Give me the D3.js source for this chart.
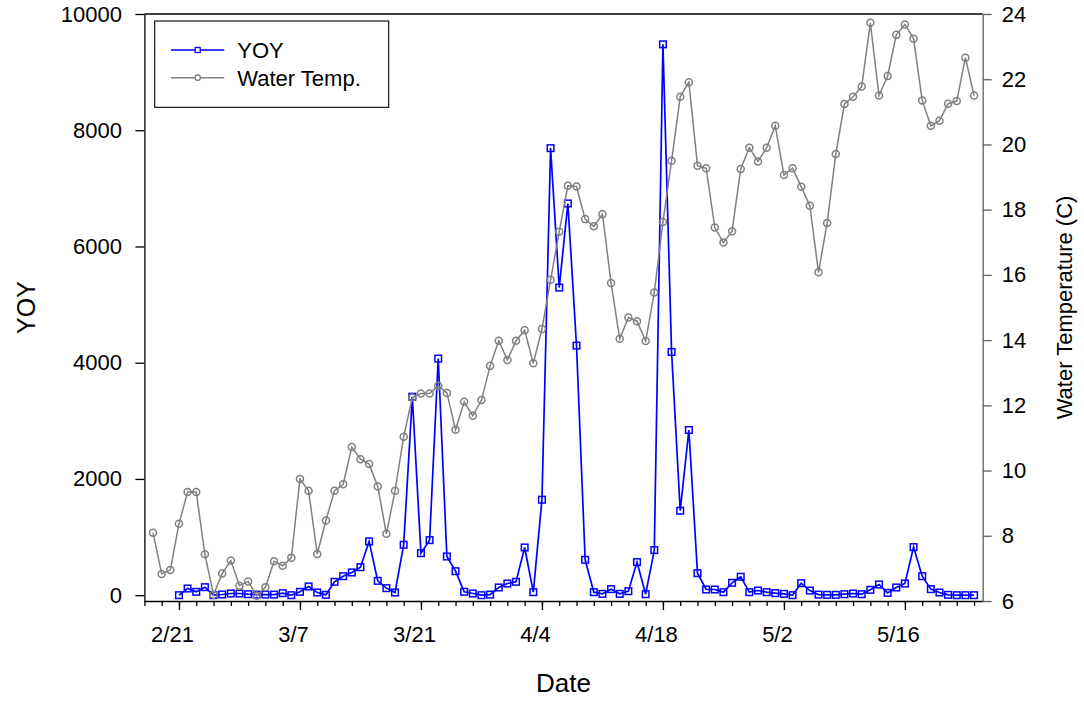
<!DOCTYPE html>
<html>
<head>
<meta charset="utf-8">
<script src="https://cdn.jsdelivr.net/npm/d3@7"></script>
<style>
  html, body { margin: 0; padding: 0; background: #fff; }
  svg { display: block; font-family: Arial, "Liberation Sans", Helvetica, sans-serif; }
</style>
</head>
<body>
<svg id="chart" width="1084" height="702"></svg>
<script>
// ---------- data ----------
const yoyStart = "2019-02-21";   // YOY series: daily from 2/21 to 5/24
const yoyValues = [
  0,115,58,138,0,12,29,29,
  17,10,10,10,35,0,58,150,46,6,
  230,327,391,482,925,247,121,46,867,3415,
  723,947,4071,666,413,58,29,0,10,133,201,
  230,821,52,1643,7692,5293,6740,4295,609,52,
  23,104,23,69,569,17,776,9478,4185,1453,
  2842,379,98,98,52,213,317,52,80,52,
  35,23,0,207,80,10,6,6,17,29,
  17,92,184,40,133,201,827,327,104,46,
  6,0,0,0
];
const tempStart = "2019-02-18";  // Water temp: daily from 2/18 to 5/24
const tempValues = [
  8.09,6.83,6.95,8.37,9.34,9.34,7.43,6.19,6.84,7.24,6.47,
  6.6,6.16,6.42,7.22,7.08,7.33,9.74,9.38,7.44,8.47,
  9.38,9.58,10.72,10.35,10.2,9.51,8.06,9.38,11.04,12.24,
  12.36,12.36,12.6,12.38,11.25,12.11,11.68,12.16,13.21,13.98,13.39,
  13.98,14.3,13.29,14.34,15.85,17.32,18.73,18.71,17.71,17.49,
  17.86,15.75,14.04,14.69,14.58,13.97,15.46,17.62,19.5,21.46,
  21.91,19.35,19.27,17.45,16.99,17.34,19.25,19.9,19.48,19.9,
  20.57,19.06,19.27,18.7,18.12,16.08,17.59,19.71,21.24,21.46,
  21.78,23.73,21.5,22.1,23.36,23.68,23.24,21.35,20.57,20.73,
  21.25,21.33,22.66,21.5
];
const xDomain = ["2019-02-17", "2019-05-25"];
const xMajorTicks = ["2019-02-21","2019-03-07","2019-03-21","2019-04-04","2019-04-18","2019-05-02","2019-05-16"];
const yoyTicks = [0,2000,4000,6000,8000,10000];
const tempTicks = [6,8,10,12,14,16,18,20,22,24];
const seriesNames = ["YOY", "Water Temp."];

// ---------- helpers ----------
const parse = d3.utcParse("%Y-%m-%d");
function dailySeries(start, values) {
  const s = parse(start);
  return values.map((v, i) => ({ date: d3.utcDay.offset(s, i), value: v }));
}
const yoyData = dailySeries(yoyStart, yoyValues);
const tempData = dailySeries(tempStart, tempValues);

// ---------- layout ----------
const L = 144.4, R = 982.7, T = 14, B = 601;
const FONT = "Arial, 'Liberation Sans', sans-serif";
const svg = d3.select("#chart");

const x = d3.scaleUtc().domain(xDomain.map(parse)).range([L, R]);
const yL = d3.scaleLinear().domain([-100, 10000]).range([B, T]);
const yR = d3.scaleLinear().domain([6, 24]).range([B, T]);

// top frame line
svg.append("line").attr("x1", L).attr("x2", R).attr("y1", T).attr("y2", T)
  .attr("stroke", "#000").attr("stroke-width", 1.3);

// ---------- x axis ----------
const minorTicks = d3.utcDay.range(parse(xDomain[0]), parse(xDomain[1]), 2);
const gxMinor = svg.append("g").attr("transform", `translate(0,${B})`)
  .call(d3.axisBottom(x).tickValues(minorTicks).tickSize(5).tickSizeOuter(0).tickFormat(""));
gxMinor.select(".domain").remove();
gxMinor.selectAll("line").attr("stroke", "#000").attr("stroke-width", 1.3);

const gx = svg.append("g").attr("transform", `translate(0,${B})`)
  .call(d3.axisBottom(x).tickValues(xMajorTicks.map(parse)).tickSize(9).tickSizeOuter(0)
    .tickPadding(16.5).tickFormat(d3.utcFormat("%-m/%-d")));
gx.select(".domain").attr("stroke", "#000").attr("stroke-width", 1.3);
gx.selectAll("line").attr("stroke", "#000").attr("stroke-width", 1.3);
gx.selectAll("text").attr("font-size", 22).attr("fill", "#000").attr("dx", -7)
  .attr("font-family", FONT);

// ---------- left axis ----------
const gyL = svg.append("g").attr("transform", `translate(${L},0)`)
  .call(d3.axisLeft(yL).tickValues(yoyTicks).tickSize(9).tickSizeOuter(0).tickPadding(13.5)
    .tickFormat(d3.format("d")));
gyL.select(".domain").attr("stroke", "#000").attr("stroke-width", 1.3);
gyL.selectAll("line").attr("stroke", "#000").attr("stroke-width", 1.3);
gyL.selectAll("text").attr("font-size", 22).attr("fill", "#000")
  .attr("font-family", FONT);

// ---------- right axis ----------
const gyR = svg.append("g").attr("transform", `translate(${R},0)`)
  .call(d3.axisRight(yR).tickValues(tempTicks).tickSize(9).tickSizeOuter(0).tickPadding(10)
    .tickFormat(d3.format("d")));
gyR.select(".domain").attr("stroke", "#606060").attr("stroke-width", 1.3);
gyR.selectAll("line").attr("stroke", "#606060").attr("stroke-width", 1.3);
gyR.selectAll("text").attr("font-size", 22).attr("fill", "#000")
  .attr("font-family", FONT);

// ---------- axis titles ----------
svg.append("text").attr("transform", `translate(35,${(T + B) / 2}) rotate(-90)`)
  .attr("text-anchor", "middle").attr("font-size", 25).text("YOY");
svg.append("text").attr("transform", `translate(1072,${(T + B) / 2}) rotate(-90)`)
  .attr("text-anchor", "middle").attr("font-size", 22).text("Water Temperature (C)");
svg.append("text").attr("x", (L + R) / 2).attr("y", 692)
  .attr("text-anchor", "middle").attr("font-size", 26).text("Date");

// ---------- series ----------
const yoyColor = "#0000ff", tempColor = "#808080";

const lineYoy = d3.line().x(d => x(d.date)).y(d => yL(d.value));
svg.append("path").datum(yoyData).attr("d", lineYoy)
  .attr("fill", "none").attr("stroke", yoyColor).attr("stroke-width", 1.7);
svg.append("g").selectAll("rect").data(yoyData).join("rect")
  .attr("x", d => x(d.date) - 3.3).attr("y", d => yL(d.value) - 3.3)
  .attr("width", 6.6).attr("height", 6.6)
  .attr("fill", "none").attr("stroke", yoyColor).attr("stroke-width", 1.5);

const lineTemp = d3.line().x(d => x(d.date)).y(d => yR(d.value));
svg.append("path").datum(tempData).attr("d", lineTemp)
  .attr("fill", "none").attr("stroke", tempColor).attr("stroke-width", 1.5);
svg.append("g").selectAll("circle").data(tempData).join("circle")
  .attr("cx", d => x(d.date)).attr("cy", d => yR(d.value)).attr("r", 3.5)
  .attr("fill", "none").attr("stroke", tempColor).attr("stroke-width", 1.5);

// ---------- legend ----------
const lg = svg.append("g");
lg.append("rect").attr("x", 154.7).attr("y", 21).attr("width", 234).attr("height", 86.3)
  .attr("fill", "#fff").attr("stroke", "#000").attr("stroke-width", 1.1);
const legendItems = [
  { name: seriesNames[0], color: yoyColor, shape: "square", y: 50 },
  { name: seriesNames[1], color: tempColor, shape: "circle", y: 77.7 }
];
legendItems.forEach(it => {
  lg.append("line").attr("x1", 171).attr("x2", 224.3).attr("y1", it.y).attr("y2", it.y)
    .attr("stroke", it.color).attr("stroke-width", 1.5);
  if (it.shape === "square") {
    lg.append("rect").attr("x", 197.7 - 2.5).attr("y", it.y - 2.5).attr("width", 5).attr("height", 5)
      .attr("fill", "#fff").attr("stroke", it.color).attr("stroke-width", 1.3);
  } else {
    lg.append("circle").attr("cx", 197.7).attr("cy", it.y).attr("r", 2.7)
      .attr("fill", "#fff").attr("stroke", it.color).attr("stroke-width", 1.3);
  }
  lg.append("text").attr("x", 237.3).attr("y", it.y).attr("dy", "0.36em")
    .attr("font-size", 22).attr("fill", "#000").text(it.name);
});
</script>
</body>
</html>
